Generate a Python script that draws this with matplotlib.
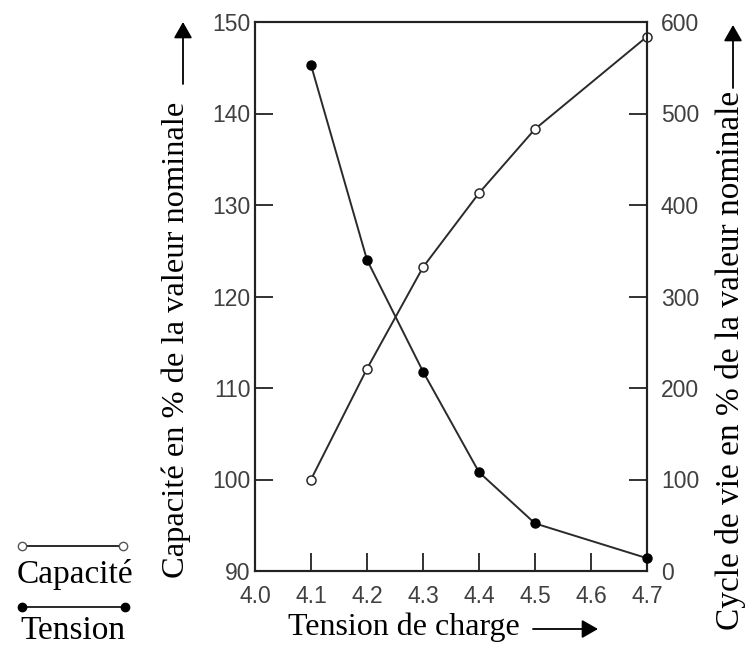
import matplotlib
matplotlib.use("Agg")
import matplotlib.pyplot as plt
from matplotlib.lines import Line2D
from matplotlib.patches import FancyArrowPatch

tension_charge = [4.1, 4.2, 4.3, 4.4, 4.5, 4.7]
capacite = [100, 112.1, 123.2, 131.3, 138.3, 148.4]
cycle_vie = [553, 340, 218, 108, 52, 14]

x_ticks = [4.0, 4.1, 4.2, 4.3, 4.4, 4.5, 4.6, 4.7]
y_left_ticks = [90, 100, 110, 120, 130, 140, 150]
y_right_ticks = [0, 100, 200, 300, 400, 500, 600]

serif = ["Liberation Serif", "DejaVu Serif"]
sans = ["Liberation Sans", "DejaVu Sans"]
tick_color = "#404040"
line_color = "#2a2a2a"

W, H = 748, 646
fig = plt.figure(figsize=(W/100, H/100), dpi=100)
ax = fig.add_axes([255/W, 1-571/H, (647-255)/W, (571-22)/H])
ax2 = ax.twinx()

ax.set_xlim(4.0, 4.7)
ax.set_ylim(90, 150)
ax2.set_ylim(0, 600)

ax.plot(tension_charge, capacite, color=line_color, lw=1.4, marker="o",
        ms=6.5, mfc="white", mec=line_color, mew=1.1, clip_on=False, zorder=3)
ax2.plot(tension_charge, cycle_vie, color=line_color, lw=1.4, marker="o",
         ms=6.5, mfc="black", mec="black", clip_on=False, zorder=3)

ax.set_xticks(x_ticks)
ax.set_xticklabels([f"{v:.1f}" for v in x_ticks])
ax.set_yticks(y_left_ticks)
ax.set_yticklabels([str(v) for v in y_left_ticks])
ax2.set_yticks(y_right_ticks)
ax2.set_yticklabels([str(v) for v in y_right_ticks])

for a in (ax, ax2):
    for s in a.spines.values():
        s.set_linewidth(1.5)
        s.set_color("#222222")
    a.tick_params(direction="in", length=13, width=1.3, color="#222222",
                  labelsize=16.5, labelcolor=tick_color)
    for lab in a.get_xticklabels() + a.get_yticklabels():
        lab.set_fontfamily(sans)
ax.tick_params(axis="x", pad=10, top=False)
ax.tick_params(axis="y", pad=3)
ax2.tick_params(axis="y", pad=10)

# no tick marks at the corners
ax.yaxis.get_major_ticks()[0].tick1line.set_visible(False)
ax.yaxis.get_major_ticks()[-1].tick1line.set_visible(False)
ax2.yaxis.get_major_ticks()[0].tick2line.set_visible(False)
ax2.yaxis.get_major_ticks()[-1].tick2line.set_visible(False)
ax.xaxis.get_major_ticks()[0].tick1line.set_visible(False)
ax.xaxis.get_major_ticks()[-1].tick1line.set_visible(False)

# axis labels
fig.text(176/W, 1-340/H, "Capacité en % de la valeur nominale",
         rotation=90, ha="center", va="center", fontsize=23.4, family=serif)
fig.text(731/W, 1-360/H, "Cycle de vie en % de la valeur nominale",
         rotation=90, ha="center", va="center", fontsize=24, family=serif)
fig.text(404/W, 1-627/H, "Tension de charge", ha="center", va="center",
         fontsize=23, family=serif)

def arrow(p0, p1):
    fig.add_artist(FancyArrowPatch(
        (p0[0]/W, 1-p0[1]/H), (p1[0]/W, 1-p1[1]/H), transform=fig.transFigure,
        arrowstyle="-|>,head_length=7,head_width=4", mutation_scale=1.4,
        color="black", lw=1.3, shrinkA=0, shrinkB=0))

arrow((533, 629), (598, 629))
arrow((183, 84), (183, 22))
arrow((733, 88), (733, 25))

# legend
fig.add_artist(Line2D([22/W, 123/W], [1-546/H, 1-546/H], transform=fig.transFigure,
                      color=line_color, lw=1.4, marker="o", ms=6, mfc="white", mec="#555555"))
fig.text(17/W, 1-575/H, "Capacité", ha="left", va="center", fontsize=24, family=serif)
fig.add_artist(Line2D([22/W, 125/W], [1-607/H, 1-607/H], transform=fig.transFigure,
                      color=line_color, lw=1.4, marker="o", ms=6, mfc="black", mec="black"))
fig.text(20/W, 1-631/H, "Tension", ha="left", va="center", fontsize=24, family=serif)

fig.savefig("out.png", dpi=100)
